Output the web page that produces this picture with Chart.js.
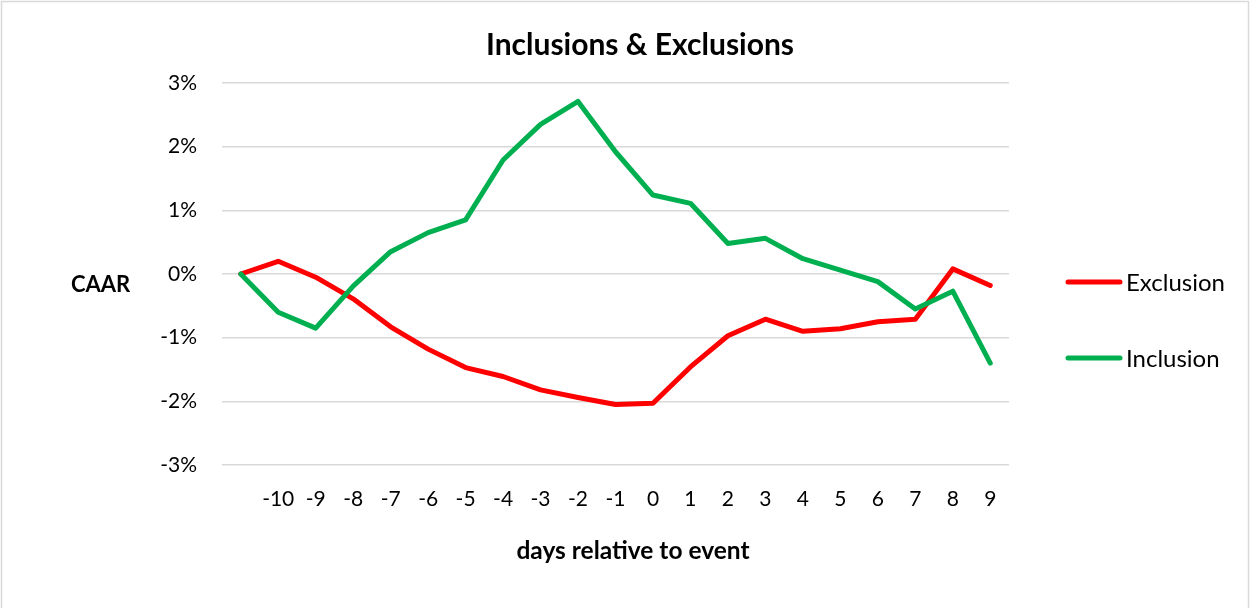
<!DOCTYPE html>
<html>
<head>
<meta charset="utf-8">
<title>Inclusions &amp; Exclusions</title>
<script src="https://cdn.jsdelivr.net/npm/chart.js@4/dist/chart.umd.min.js"></script>
<style>
  html, body { margin: 0; padding: 0; background: #fff; }
  #wrap { width: 1250px; height: 608px; }
</style>
</head>
<body>
<div id="wrap"><canvas id="chart" width="1250" height="608"></canvas></div>
<script>
// Event-window days (first slot is the unlabeled starting point)
const categories = ['', '-10', '-9', '-8', '-7', '-6', '-5', '-4', '-3', '-2', '-1',
                    '0', '1', '2', '3', '4', '5', '6', '7', '8', '9'];

// Cumulative average abnormal returns, in percent
const exclusion = [0, 0.20, -0.05, -0.39, -0.83, -1.18, -1.47, -1.61, -1.82, -1.94, -2.05,
                   -2.03, -1.46, -0.97, -0.71, -0.90, -0.86, -0.75, -0.71, 0.08, -0.18];
const inclusion = [0, -0.60, -0.85, -0.19, 0.35, 0.65, 0.85, 1.79, 2.35, 2.71, 1.92,
                   1.24, 1.11, 0.48, 0.56, 0.24, 0.06, -0.12, -0.55, -0.27, -1.40];

const yTicks = [-3, -2, -1, 0, 1, 2, 3];

const titleText = 'Inclusions & Exclusions';
const yTitleText = 'CAAR';
const xTitleText = 'days relative to event';

const FONT = 'Lato, "Open Sans", sans-serif';
const RED = '#FF0000';
const GREEN = '#00B050';

// Frame, title, axis titles and a right-hand legend
const decorations = {
  id: 'decorations',
  beforeDraw(chart) {
    const ctx = chart.ctx;
    ctx.save();
    ctx.fillStyle = '#ffffff';
    ctx.fillRect(0, 0, chart.width, chart.height);
    ctx.strokeStyle = '#d9d9d9';
    ctx.lineWidth = 1.5;
    ctx.strokeRect(1.5, 1.5, chart.width - 3, chart.height + 20);
    ctx.restore();
  },
  afterDraw(chart) {
    const ctx = chart.ctx;
    ctx.save();
    ctx.fillStyle = '#000';
    ctx.textBaseline = 'alphabetic';

    ctx.font = 'bold 30px ' + FONT;
    ctx.textAlign = 'center';
    ctx.fillText(titleText, 640, 55);

    ctx.font = 'bold 24.5px ' + FONT;
    ctx.fillText(xTitleText, 633, 559);

    ctx.font = 'bold 22px ' + FONT;
    ctx.textAlign = 'left';
    ctx.fillText(yTitleText, 71, 292);

    // legend entries
    const entries = chart.data.datasets.map((ds, i) => ({ label: ds.label, color: ds.borderColor, y: [282, 358][i] }));
    ctx.font = '24px ' + FONT;
    ctx.textBaseline = 'middle';
    entries.forEach(e => {
      ctx.strokeStyle = e.color;
      ctx.lineWidth = 5;
      ctx.lineCap = 'round';
      ctx.beginPath();
      ctx.moveTo(1068, e.y);
      ctx.lineTo(1120, e.y);
      ctx.stroke();
      ctx.fillStyle = '#000';
      ctx.fillText(e.label, 1126, e.y + 1);
    });
    ctx.restore();
  }
};

new Chart(document.getElementById('chart'), {
  type: 'line',
  data: {
    labels: categories,
    datasets: [
      {
        label: 'Exclusion',
        data: exclusion,
        borderColor: RED,
        backgroundColor: RED,
        borderWidth: 5,
        order: 1
      },
      {
        label: 'Inclusion',
        data: inclusion,
        borderColor: GREEN,
        backgroundColor: GREEN,
        borderWidth: 5,
        order: 0
      }
    ]
  },
  options: {
    responsive: false,
    animation: false,
    devicePixelRatio: 1,
    layout: { padding: { left: 0, right: 241, top: 83, bottom: 83 } },
    elements: {
      point: { radius: 0, hoverRadius: 0 },
      line: { tension: 0, borderCapStyle: 'round', borderJoinStyle: 'round' }
    },
    plugins: {
      legend: { display: false },
      title: { display: false },
      tooltip: { enabled: false }
    },
    scales: {
      x: {
        type: 'category',
        offset: true,
        grid: { display: false, drawTicks: false },
        border: { display: false },
        ticks: {
          color: '#000',
          font: { family: FONT, size: 21 },
          padding: 22,
          maxRotation: 0,
          autoSkip: false
        },
        afterFit(scale) { scale.height = 60; }
      },
      y: {
        min: -3,
        max: 3,
        afterBuildTicks(scale) { scale.ticks = yTicks.map(v => ({ value: v })); },
        grid: { color: '#d9d9d9', lineWidth: 1.5, drawTicks: false },
        border: { display: false },
        ticks: {
          color: '#000',
          font: { family: FONT, size: 21 },
          padding: 25,
          callback: v => v + '%'
        },
        afterFit(scale) { scale.width = 222; }
      }
    }
  },
  plugins: [decorations]
});
</script>
</body>
</html>
